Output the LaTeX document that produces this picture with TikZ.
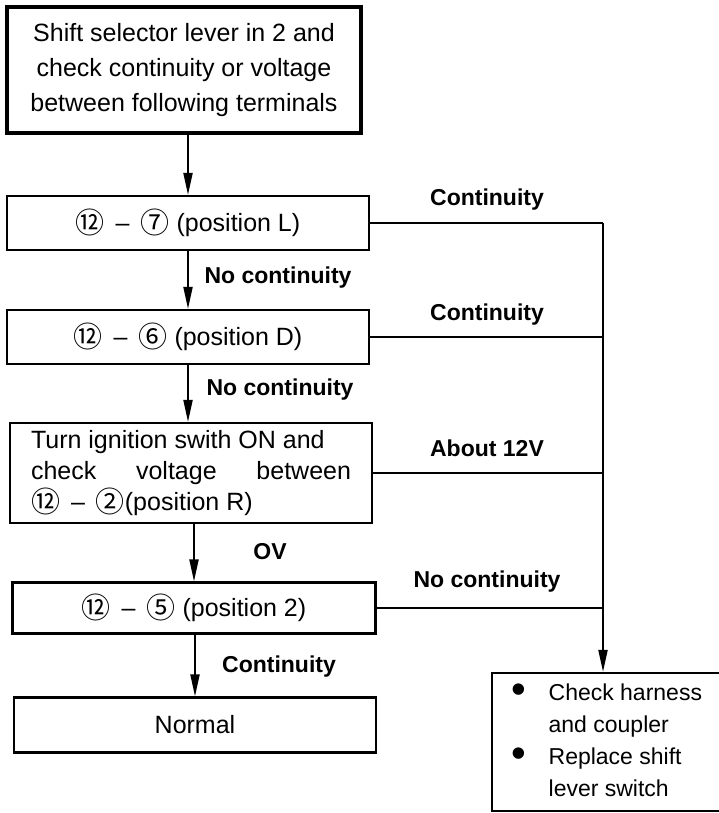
\documentclass[tikz,border=0pt]{standalone}
\usepackage{fontspec}
\setmainfont{Liberation Sans}
\newfontfamily\ringfont{Noto Sans CJK JP}
\usetikzlibrary{arrows.meta}

% terminal number in a ring
\newcommand\cnum[1]{\raisebox{-2pt}{\ringfont\fontsize{29}{29}\selectfont #1}}
% dash between two terminals, with its own spacing
\newcommand\tdash{\hspace{11pt}--\hspace{11pt}}
% large round bullet
\newcommand\dotmark{\raisebox{-3pt}{\fontsize{42}{42}\selectfont\textbullet}}

\begin{document}
\begin{tikzpicture}[x=1pt,y=-1pt,
  box/.style={draw,line width=2.2pt,rectangle,inner sep=0pt,font=\fontsize{25}{35}\selectfont,align=center},
  lab/.style={font=\bfseries\fontsize{23}{23}\selectfont,inner sep=0pt},
  flow/.style={line width=2pt,-{Triangle[length=22pt,width=9pt]}},
  wire/.style={line width=2pt}]
\useasboundingbox (0,0) rectangle (718,813);

% main column
\node[box,line width=3.5pt,minimum width=354,minimum height=126] (start) at (184,70)
  {Shift selector lever in 2 and\\check continuity or voltage\\between following terminals};
\node[box,minimum width=362,minimum height=54] (posL) at (188,223)
  {\cnum{⑫}\tdash\cnum{⑦} (position L)};
\node[box,minimum width=362,minimum height=54] (posD) at (188,337)
  {\cnum{⑫}\tdash\cnum{⑥} (position D)};
\node[box,minimum width=362,minimum height=100,align=left,font=\fontsize{25}{31}\selectfont] (posR) at (191,473)
  {Turn ignition swith ON and\\\hbox to 320pt{check\hfill voltage\hfill between}\\\cnum{⑫}\tdash\cnum{②}(position R)};
\node[box,minimum width=363,minimum height=51] (pos2) at (194,608)
  {\cnum{⑫}\tdash\cnum{⑤} (position 2)};
\node[box,minimum width=362,minimum height=55] (normal) at (195,725) {Normal};

% remedy box at the lower right
\node[box,minimum width=230,minimum height=138,align=left,font=\fontsize{23}{32}\selectfont] (fix) at (607,742)
  {\begin{tabular}{@{}l@{\hspace{22pt}}l@{}}
   \dotmark & Check harness\\
            & and coupler\\
   \dotmark & Replace shift\\
            & lever switch
   \end{tabular}};

% branch labels
\node[lab] (c1) at (487,200) {Continuity};
\node[lab] (n1) at (278,278) {No continuity};
\node[lab] (c2) at (487,315) {Continuity};
\node[lab] (n2) at (280,390) {No continuity};
\node[lab] (v12) at (487,448) {About 12V};
\node[lab] (v0) at (270,552) {OV};
\node[lab] (n3) at (487,582) {No continuity};
\node[lab] (c3) at (279,667) {Continuity};

% downward flow
\draw[flow] (start.south -| posL.north) -- (posL.north);
\draw[flow] (posL.south) -- (posD.north);
\draw[flow] (posD.south) -- (posD.south |- posR.north);
\draw[flow] (posR.south -| pos2.north) -- (pos2.north);
\draw[flow] (pos2.south -| normal.north) -- (normal.north);

% failure branches into the bus
\coordinate (bus) at (603,223);
\draw[wire] (posL.east) -- (posL.east -| bus);
\draw[wire] (posD.east) -- (posD.east -| bus);
\draw[wire] (posR.east) -- (posR.east -| bus);
\draw[wire] (pos2.east) -- (pos2.east -| bus);
\draw[flow] (bus) -- (bus |- fix.north);
\end{tikzpicture}
\end{document}
